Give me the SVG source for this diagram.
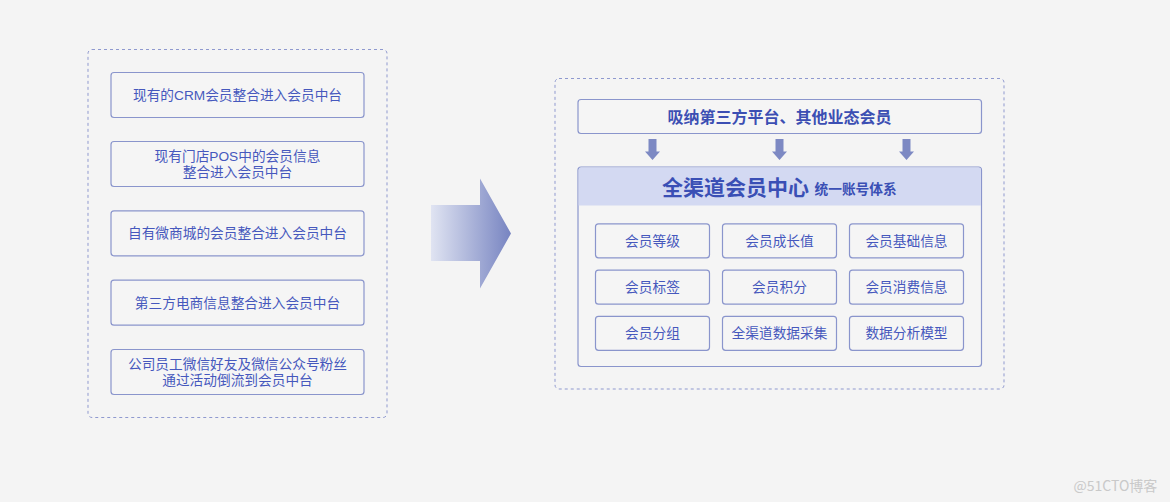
<svg xmlns="http://www.w3.org/2000/svg" width="1170" height="502" viewBox="0 0 1170 502">
<defs>
<style>
.bg{fill:#f4f4f4}
.dash{fill:none;stroke:#8f99cf;stroke-width:1;stroke-dasharray:3 3}
.box{fill:#f5f5f5;stroke:#8a95cc;stroke-width:1.2}
.t{font-family:"Liberation Sans","Noto Sans CJK SC",sans-serif;font-size:13.7px;fill:#4658bd;text-anchor:middle}
.tb{font-family:"Noto Sans CJK SC","Noto Sans",sans-serif;font-size:16px;font-weight:bold;fill:#3c4fb3;text-anchor:middle;dominant-baseline:central}
.title{font-family:"Noto Sans CJK SC","Noto Sans",sans-serif;font-size:21px;font-weight:bold;fill:#3a4fb5;dominant-baseline:central}
.sub{font-family:"Noto Sans CJK SC","Noto Sans",sans-serif;font-size:13.7px;font-weight:600;fill:#3a4fb5;dominant-baseline:central}
.darr{fill:#7d89c3}
.wm{font-family:"Noto Sans CJK SC","Noto Sans",sans-serif;font-size:14px;fill:#c9c9c9}
</style>
<linearGradient id="g" x1="0" y1="0" x2="1" y2="0">
<stop offset="0" stop-color="#e0e4f2"/>
<stop offset="1" stop-color="#7784c1"/>
</linearGradient>
<path id="da" d="M-4,0 H4 V12.5 H7.5 L0,21 L-7.5,12.5 H-4 Z"/>
</defs>
<rect class="bg" x="0" y="0" width="1170" height="502"/>

<g id="left-container">
<rect class="dash" x="88" y="49.5" width="299" height="368" rx="4"/>
</g>
<g id="src-crm">
<rect class="box" x="111" y="72.5" width="253" height="45" rx="3"/>
<text class="t" x="237.5" y="100">现有的CRM会员整合进入会员中台</text>
</g>
<g id="src-pos">
<rect class="box" x="111" y="141.5" width="253" height="45" rx="3"/>
<text class="t" x="237.5" y="161"><tspan x="237.5" y="161">现有门店POS中的会员信息</tspan><tspan x="237.5" y="177">整合进入会员中台</tspan></text>
</g>
<g id="src-mall">
<rect class="box" x="111" y="210.8" width="253" height="45" rx="3"/>
<text class="t" x="237.5" y="238.3">自有微商城的会员整合进入会员中台</text>
</g>
<g id="src-ecom">
<rect class="box" x="111" y="280.2" width="253" height="45" rx="3"/>
<text class="t" x="237.5" y="307.7">第三方电商信息整合进入会员中台</text>
</g>
<g id="src-wechat">
<rect class="box" x="111" y="349.5" width="253" height="45" rx="3"/>
<text class="t" x="237.5" y="369"><tspan x="237.5" y="369">公司员工微信好友及微信公众号粉丝</tspan><tspan x="237.5" y="385">通过活动倒流到会员中台</tspan></text>
</g>

<g id="connectors">
<path d="M431,205 H480 V178.5 L511,233.5 L480,288.5 V261 H431 Z" fill="url(#g)"/>
<use href="#da" x="652.5" y="139" class="darr"/>
<use href="#da" x="779.5" y="139" class="darr"/>
<use href="#da" x="906.5" y="139" class="darr"/>
</g>

<g id="right-container">
<rect class="dash" x="555" y="78.5" width="449" height="310.5" rx="4"/>
</g>
<g id="absorb">
<rect class="box" x="578" y="99.5" width="403.5" height="34" rx="3"/>
<text class="tb" x="779.5" y="116.3">吸纳第三方平台、其他业态会员</text>
</g>
<g id="center">
<rect class="box" x="578" y="167" width="403.5" height="199.5" rx="3"/>
<path d="M578.6,205.5 V170 Q578.6,167.6 581,167.6 H978.5 Q980.9,167.6 980.9,170 V205.5 Z" fill="#d3d9f2"/>
<text class="title" x="662" y="185.5">全渠道会员中心</text>
<text class="sub" x="814.5" y="187.5">统一账号体系</text>
</g>
<g id="item-level"><rect class="box" x="595.5" y="223.8" width="114" height="34" rx="3"/><text class="t" x="652.5" y="245.8">会员等级</text></g>
<g id="item-growth"><rect class="box" x="722.5" y="223.8" width="114" height="34" rx="3"/><text class="t" x="779.5" y="245.8">会员成长值</text></g>
<g id="item-basic"><rect class="box" x="849.5" y="223.8" width="114" height="34" rx="3"/><text class="t" x="906.5" y="245.8">会员基础信息</text></g>
<g id="item-tag"><rect class="box" x="595.5" y="270.2" width="114" height="34" rx="3"/><text class="t" x="652.5" y="292.2">会员标签</text></g>
<g id="item-points"><rect class="box" x="722.5" y="270.2" width="114" height="34" rx="3"/><text class="t" x="779.5" y="292.2">会员积分</text></g>
<g id="item-consume"><rect class="box" x="849.5" y="270.2" width="114" height="34" rx="3"/><text class="t" x="906.5" y="292.2">会员消费信息</text></g>
<g id="item-group"><rect class="box" x="595.5" y="316.3" width="114" height="34" rx="3"/><text class="t" x="652.5" y="338.3">会员分组</text></g>
<g id="item-collect"><rect class="box" x="722.5" y="316.3" width="114" height="34" rx="3"/><text class="t" x="779.5" y="338.3">全渠道数据采集</text></g>
<g id="item-model"><rect class="box" x="849.5" y="316.3" width="114" height="34" rx="3"/><text class="t" x="906.5" y="338.3">数据分析模型</text></g>

<text class="wm" x="1073.5" y="491">@51CTO博客</text>
</svg>
